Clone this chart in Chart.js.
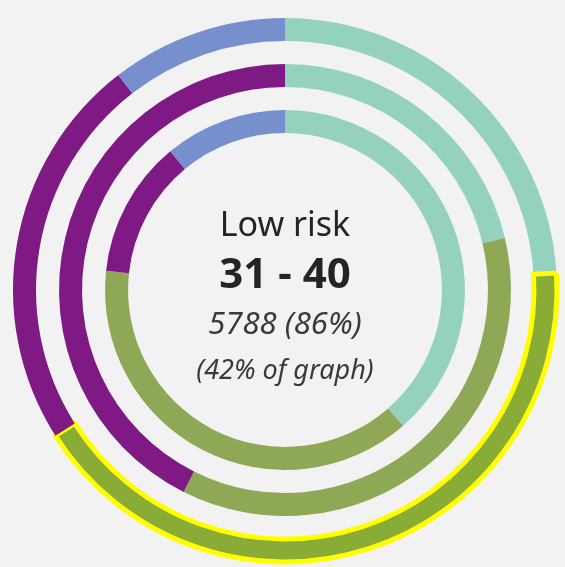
<!DOCTYPE html>
<html>
<head>
<meta charset="utf-8">
<script src="https://cdn.jsdelivr.net/npm/chart.js@4"></script>
<style>
  html, body { margin: 0; padding: 0; background: #f2f2f2; }
  #wrap { width: 565px; height: 567px; }
</style>
</head>
<body>
<div id="wrap"><canvas id="ring-chart" width="565" height="567"></canvas></div>
<script>
// categories (clockwise from 12 o'clock)
const categories = ['Very low risk', 'Low risk', 'Medium risk', 'High risk'];
const categoryColors = ['#94d2bf', '#8fa856', '#7f1a84', '#7590cc'];
const highlightGreen = '#88ac36';

// rings, outer to inner (share of each ring, %)
const ringNames = ['31 - 40', '21 - 30', '11 - 20'];
const outerValues = [24, 42, 23.5, 10.5];
const middleValues = [21.3, 36.1, 42.6, 0];
const innerValues = [38.6, 38.1, 12.3, 11];

// selected slice: outer ring, "Low risk"
const selRing = 0;
const selIndex = 1;

// center label lines
const centerLines = ['Low risk', '31 - 40', '5788 (86%)', '(42% of graph)'];

/* ===== center text plugin ===== */
const centerTextPlugin = {
  id: 'centerText',
  afterDraw(chart) {
    const { ctx } = chart;
    const meta = chart.getDatasetMeta(0);
    if (!meta.data.length) return;
    const cx = meta.data[0].x;
    const cy = meta.data[0].y;
    const fam = '"Noto Sans", "Open Sans", sans-serif';
    const styles = [
      { font: `normal 400 34px ${fam}`, color: '#252423', dy: -54 },
      { font: `normal 700 42px ${fam}`, color: '#252423', dy: -2 },
      { font: `italic 400 31px ${fam}`, color: '#3b3a39', dy: 44 },
      { font: `italic 400 27px ${fam}`, color: '#3b3a39', dy: 89 }
    ];
    ctx.save();
    ctx.textAlign = 'center';
    ctx.textBaseline = 'alphabetic';
    centerLines.forEach((txt, i) => {
      ctx.font = styles[i].font;
      ctx.fillStyle = styles[i].color;
      ctx.fillText(txt, cx, cy + styles[i].dy);
    });
    ctx.restore();
  }
};
/* ============================== */

function ringDataset(name, values, ringIdx) {
  const colors = categoryColors.slice();
  const borderW = values.map(() => 0);
  const borderC = values.map(() => 'rgba(0,0,0,0)');
  if (ringIdx === selRing) {
    colors[selIndex] = highlightGreen;
    borderW[selIndex] = 5;
    borderC[selIndex] = '#ffff00';
  }
  return {
    label: name,
    data: values,
    backgroundColor: colors,
    borderColor: borderC,
    borderWidth: borderW,
    borderJoinStyle: 'miter',
    weight: 1
  };
}

function spacer() {
  return {
    label: '',
    data: [1],
    backgroundColor: 'rgba(0,0,0,0)',
    borderWidth: 0,
    weight: 1
  };
}

const ctx = document.getElementById('ring-chart').getContext('2d');
const ringChart = new Chart(ctx, {
  type: 'doughnut',
  data: {
    labels: categories,
    datasets: [
      ringDataset(ringNames[0], outerValues, 0),
      spacer(),
      ringDataset(ringNames[1], middleValues, 1),
      spacer(),
      ringDataset(ringNames[2], innerValues, 2)
    ]
  },
  options: {
    responsive: false,
    animation: false,
    events: [],
    radius: 272,
    cutout: '57.7%',
    layout: { padding: { left: 5, right: 0, top: 13, bottom: 0 } },
    plugins: {
      legend: { display: false },
      tooltip: { enabled: false }
    }
  },
  plugins: [centerTextPlugin]
});
</script>
</body>
</html>
